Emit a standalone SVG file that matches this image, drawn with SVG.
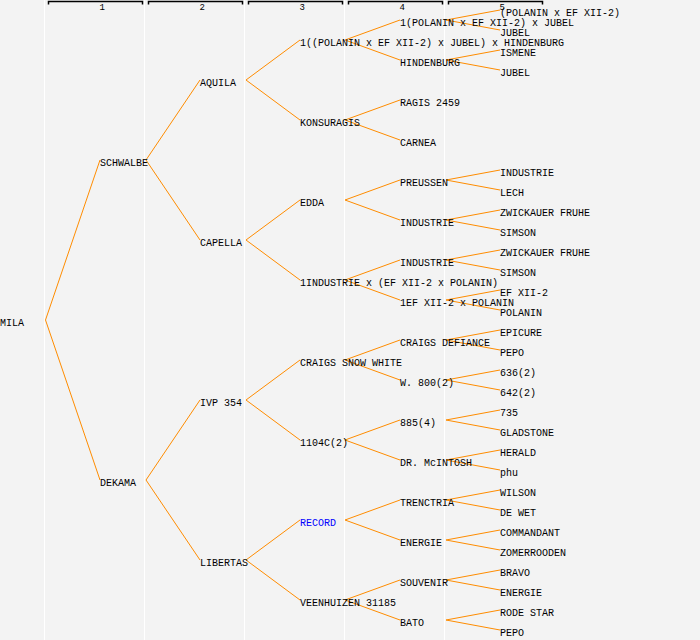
<svg xmlns="http://www.w3.org/2000/svg" width="700" height="640" viewBox="0 0 700 640">
<style>
.t{font-family:"Liberation Mono","DejaVu Sans Mono",monospace;font-size:10px;fill:#000}
.b{fill:#0000ff}
.h{font-family:"Liberation Mono","DejaVu Sans Mono",monospace;font-size:9px;fill:#000}
.c{fill:none;stroke:#ff8c00;stroke-width:1}
.g{stroke:#ffffff;stroke-width:1}
.k{fill:none;stroke:#000;stroke-width:1.5}
</style>
<rect width="700" height="640" fill="#f3f3f3"/>
<g id="grid">
<line class="g" x1="44.5" y1="0" x2="44.5" y2="640"/>
<line class="g" x1="144.5" y1="0" x2="144.5" y2="640"/>
<line class="g" x1="244.5" y1="0" x2="244.5" y2="640"/>
<line class="g" x1="344.5" y1="0" x2="344.5" y2="640"/>
<line class="g" x1="444.5" y1="0" x2="444.5" y2="640"/>
</g>
<g id="header">
<path class="k" d="M48.5,4.5V1.5H142.5V4.5"/>
<path class="k" d="M148.5,4.5V1.5H242.5V4.5"/>
<path class="k" d="M248.5,4.5V1.5H342.5V4.5"/>
<path class="k" d="M348.5,4.5V1.5H442.5V4.5"/>
<path class="k" d="M448.5,4.5V1.5H542.5V4.5"/>
<text class="h" x="99.5" y="9.5">1</text>
<text class="h" x="199.5" y="9.5">2</text>
<text class="h" x="299.5" y="9.5">3</text>
<text class="h" x="399.5" y="9.5">4</text>
<text class="h" x="499.5" y="9.5">5</text>
</g>
<g id="connectors">
<path class="c" d="M100,160L45.5,320L100,480"/>
<path class="c" d="M200,80L146,160L200,240"/>
<path class="c" d="M200,400L146,480L200,560"/>
<path class="c" d="M300,40L246,80L300,120"/>
<path class="c" d="M300,200L246,240L300,280"/>
<path class="c" d="M300,360L246,400L300,440"/>
<path class="c" d="M300,520L246,560L300,600"/>
<path class="c" d="M400,20L345,40L400,60"/>
<path class="c" d="M400,100L345,120L400,140"/>
<path class="c" d="M400,180L345,200L400,220"/>
<path class="c" d="M400,260L345,280L400,300"/>
<path class="c" d="M400,340L345,360L400,380"/>
<path class="c" d="M400,420L345,440L400,460"/>
<path class="c" d="M400,500L345,520L400,540"/>
<path class="c" d="M400,580L345,600L400,620"/>
<path class="c" d="M500,10L446,20L500,30"/>
<path class="c" d="M500,50L446,60L500,70"/>
<path class="c" d="M500,170L446,180L500,190"/>
<path class="c" d="M500,210L446,220L500,230"/>
<path class="c" d="M500,250L446,260L500,270"/>
<path class="c" d="M500,290L446,300L500,310"/>
<path class="c" d="M500,330L446,340L500,350"/>
<path class="c" d="M500,370L446,380L500,390"/>
<path class="c" d="M500,410L446,420L500,430"/>
<path class="c" d="M500,450L446,460L500,470"/>
<path class="c" d="M500,490L446,500L500,510"/>
<path class="c" d="M500,530L446,540L500,550"/>
<path class="c" d="M500,570L446,580L500,590"/>
<path class="c" d="M500,610L446,620L500,630"/>
</g>
<g id="n-mila"><text class="t" x="0" y="326">MILA</text></g>
<g id="n-schwalbe"><text class="t" x="100" y="166">SCHWALBE</text></g>
<g id="n-dekama"><text class="t" x="100" y="486">DEKAMA</text></g>
<g id="n-aquila"><text class="t" x="200" y="86">AQUILA</text></g>
<g id="n-capella"><text class="t" x="200" y="246">CAPELLA</text></g>
<g id="n-ivp354"><text class="t" x="200" y="406">IVP 354</text></g>
<g id="n-libertas"><text class="t" x="200" y="566">LIBERTAS</text></g>
<g id="n-g3-1"><text class="t" x="300" y="46">1((POLANIN x EF XII-2) x JUBEL) x HINDENBURG</text></g>
<g id="n-konsuragis"><text class="t" x="300" y="126">KONSURAGIS</text></g>
<g id="n-edda"><text class="t" x="300" y="206">EDDA</text></g>
<g id="n-g3-4"><text class="t" x="300" y="286">1INDUSTRIE x (EF XII-2 x POLANIN)</text></g>
<g id="n-craigssnow"><text class="t" x="300" y="366">CRAIGS SNOW WHITE</text></g>
<g id="n-1104c"><text class="t" x="300" y="446">1104C(2)</text></g>
<g id="n-record"><text class="t b" x="300" y="526">RECORD</text></g>
<g id="n-veenhuizen"><text class="t" x="300" y="606">VEENHUIZEN 31185</text></g>
<g id="n-g4-1"><text class="t" x="400" y="26">1(POLANIN x EF XII-2) x JUBEL</text></g>
<g id="n-hindenburg"><text class="t" x="400" y="66">HINDENBURG</text></g>
<g id="n-ragis"><text class="t" x="400" y="106">RAGIS 2459</text></g>
<g id="n-carnea"><text class="t" x="400" y="146">CARNEA</text></g>
<g id="n-preussen"><text class="t" x="400" y="186">PREUSSEN</text></g>
<g id="n-industrie-a"><text class="t" x="400" y="226">INDUSTRIE</text></g>
<g id="n-industrie-b"><text class="t" x="400" y="266">INDUSTRIE</text></g>
<g id="n-g4-8"><text class="t" x="400" y="306">1EF XII-2 x POLANIN</text></g>
<g id="n-craigsdef"><text class="t" x="400" y="346">CRAIGS DEFIANCE</text></g>
<g id="n-w800"><text class="t" x="400" y="386">W. 800(2)</text></g>
<g id="n-885"><text class="t" x="400" y="426">885(4)</text></g>
<g id="n-mcintosh"><text class="t" x="400" y="466">DR. McINTOSH</text></g>
<g id="n-trenctria"><text class="t" x="400" y="506">TRENCTRIA</text></g>
<g id="n-energie-a"><text class="t" x="400" y="546">ENERGIE</text></g>
<g id="n-souvenir"><text class="t" x="400" y="586">SOUVENIR</text></g>
<g id="n-bato"><text class="t" x="400" y="626">BATO</text></g>
<g id="n-g5-1"><text class="t" x="500" y="16">(POLANIN x EF XII-2)</text></g>
<g id="n-g5-2"><text class="t" x="500" y="36">JUBEL</text></g>
<g id="n-g5-3"><text class="t" x="500" y="56">ISMENE</text></g>
<g id="n-g5-4"><text class="t" x="500" y="76">JUBEL</text></g>
<g id="n-g5-9"><text class="t" x="500" y="176">INDUSTRIE</text></g>
<g id="n-g5-10"><text class="t" x="500" y="196">LECH</text></g>
<g id="n-g5-11"><text class="t" x="500" y="216">ZWICKAUER FRUHE</text></g>
<g id="n-g5-12"><text class="t" x="500" y="236">SIMSON</text></g>
<g id="n-g5-13"><text class="t" x="500" y="256">ZWICKAUER FRUHE</text></g>
<g id="n-g5-14"><text class="t" x="500" y="276">SIMSON</text></g>
<g id="n-g5-15"><text class="t" x="500" y="296">EF XII-2</text></g>
<g id="n-g5-16"><text class="t" x="500" y="316">POLANIN</text></g>
<g id="n-g5-17"><text class="t" x="500" y="336">EPICURE</text></g>
<g id="n-g5-18"><text class="t" x="500" y="356">PEPO</text></g>
<g id="n-g5-19"><text class="t" x="500" y="376">636(2)</text></g>
<g id="n-g5-20"><text class="t" x="500" y="396">642(2)</text></g>
<g id="n-g5-21"><text class="t" x="500" y="416">735</text></g>
<g id="n-g5-22"><text class="t" x="500" y="436">GLADSTONE</text></g>
<g id="n-g5-23"><text class="t" x="500" y="456">HERALD</text></g>
<g id="n-g5-24"><text class="t" x="500" y="476">phu</text></g>
<g id="n-g5-25"><text class="t" x="500" y="496">WILSON</text></g>
<g id="n-g5-26"><text class="t" x="500" y="516">DE WET</text></g>
<g id="n-g5-27"><text class="t" x="500" y="536">COMMANDANT</text></g>
<g id="n-g5-28"><text class="t" x="500" y="556">ZOMERROODEN</text></g>
<g id="n-g5-29"><text class="t" x="500" y="576">BRAVO</text></g>
<g id="n-g5-30"><text class="t" x="500" y="596">ENERGIE</text></g>
<g id="n-g5-31"><text class="t" x="500" y="616">RODE STAR</text></g>
<g id="n-g5-32"><text class="t" x="500" y="636">PEPO</text></g>
</svg>
